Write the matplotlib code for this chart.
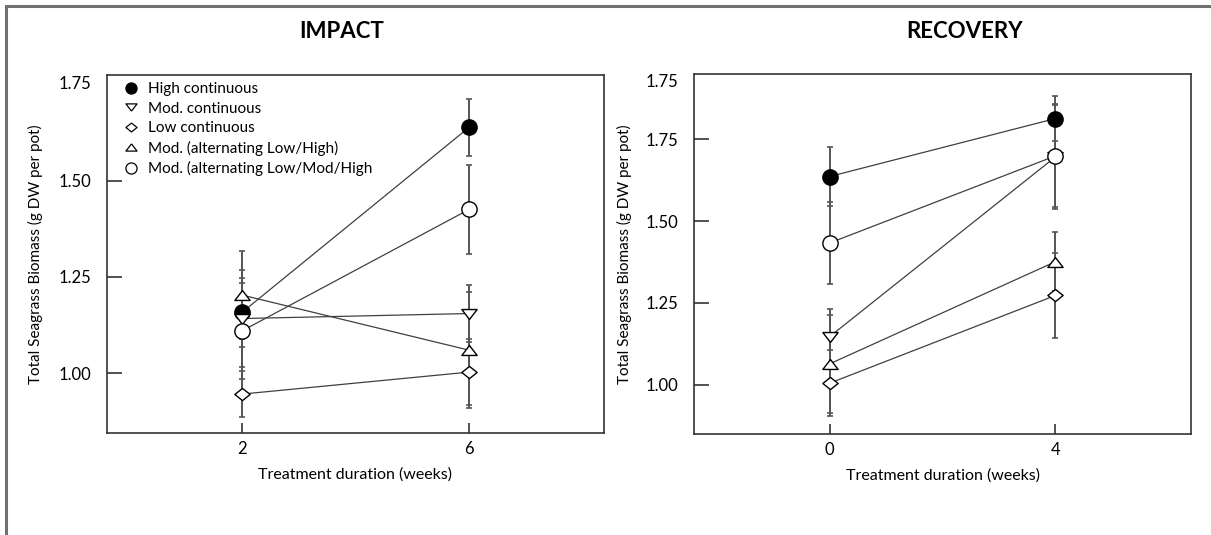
import matplotlib.pyplot as plt
from matplotlib.lines import Line2D

plt.rcParams['font.family'] = ['Lato', 'DejaVu Sans']

# --- data ---
labels = ['High continuous', 'Mod. continuous', 'Low continuous',
          'Mod. (alternating Low/High)', 'Mod. (alternating Low/Mod/High']

impact_weeks = [2, 6]
impact_high = [1.158, 1.638]
impact_high_err = [0.09, 0.075]
impact_modcont = [1.142, 1.155]
impact_modcont_err = [0.125, 0.075]
impact_low = [0.946, 1.003]
impact_low_err = [0.06, 0.085]
impact_alt_lh = [1.203, 1.060]
impact_alt_lh_err = [0.115, 0.15]
impact_alt_lmh = [1.110, 1.425]
impact_alt_lmh_err = [0.125, 0.115]

recovery_weeks = [0, 4]
recovery_high = [1.636, 1.813]
recovery_high_err = [0.09, 0.068]
recovery_modcont = [1.147, 1.696]
recovery_modcont_err = [0.085, 0.16]
recovery_low = [1.005, 1.273]
recovery_low_err = [0.10, 0.13]
recovery_alt_lh = [1.064, 1.376]
recovery_alt_lh_err = [0.15, 0.09]
recovery_alt_lmh = [1.433, 1.699]
recovery_alt_lmh_err = [0.125, 0.155]

# marker shapes (flattened triangles / diamond like the original)
tri_up = [(0, 0.65), (-1, -0.65), (1, -0.65), (0, 0.65)]
tri_down = [(0, -0.65), (-1, 0.65), (1, 0.65), (0, -0.65)]
diamond = [(0, 0.8), (1, 0), (0, -0.8), (-1, 0), (0, 0.8)]
markers = ['o', tri_down, diamond, tri_up, 'o']
faces = ['black', 'white', 'white', 'white', 'white']
msize = [11, 11, 11, 11, 11]

line_col = '#404040'
err_col = '#555555'


def draw_panel(ax, weeks, series, errs):
    for i, (y, e) in enumerate(zip(series, errs)):
        ax.errorbar(weeks, y, yerr=e, fmt='none', ecolor=err_col,
                    elinewidth=1.4, capsize=2.5, capthick=1.2, zorder=2)
    for i, y in enumerate(series):
        ax.plot(weeks, y, color=line_col, lw=0.9, zorder=3)
    for i, y in enumerate(series):
        ax.plot(weeks, y, linestyle='none', marker=markers[i],
                markersize=msize[i], markerfacecolor=faces[i],
                markeredgecolor='black', markeredgewidth=1.0, zorder=4)
    for s in ax.spines.values():
        s.set_color('#333333')
        s.set_linewidth(1.2)
    ax.tick_params(axis='y', direction='in', length=11, width=1.2,
                   color='#333333', pad=11, labelsize=12)
    ax.tick_params(axis='x', direction='in', length=7, width=1.2,
                   color='#333333', pad=6, labelsize=12)
    ax.set_ylabel('Total Seagrass Biomass (g DW per pot)', fontsize=11)
    ax.set_xlabel('Treatment duration (weeks)', fontsize=11.5)


fig = plt.figure(figsize=(12.11, 5.35), dpi=100)

ax1 = fig.add_axes([107 / 1211, 1 - 433 / 535, 497 / 1211, 358 / 535])
draw_panel(ax1, impact_weeks,
           [impact_high, impact_modcont, impact_low, impact_alt_lh, impact_alt_lmh],
           [impact_high_err, impact_modcont_err, impact_low_err,
            impact_alt_lh_err, impact_alt_lmh_err])
ax1.set_xlim(-0.38, 8.38)
ax1.set_ylim(0.845, 1.774)
ax1.set_xticks(impact_weeks)
ax1.set_yticks([1.0, 1.25, 1.5, 1.755])
ax1.set_yticklabels(['1.00', '1.25', '1.50', '1.75'])
ax1.yaxis.get_major_ticks()[-1].tick1line.set_visible(False)
ax1.yaxis.set_label_coords(-0.128, 0.5)
ax1.xaxis.set_label_coords(0.5, -0.095)

handles = [Line2D([], [], linestyle='none', marker=markers[i], markersize=8,
                  markerfacecolor=faces[i], markeredgecolor='black',
                  markeredgewidth=0.9) for i in range(5)]
ax1.legend(handles, labels, loc='upper left', bbox_to_anchor=(0.012, 1.01),
           frameon=False, fontsize=11, handlelength=1.0, handletextpad=0.6,
           labelspacing=0.36, borderaxespad=0.3)

ax2 = fig.add_axes([694 / 1211, 1 - 434 / 535, 497 / 1211, 360 / 535])
draw_panel(ax2, recovery_weeks,
           [recovery_high, recovery_modcont, recovery_low, recovery_alt_lh,
            recovery_alt_lmh],
           [recovery_high_err, recovery_modcont_err, recovery_low_err,
            recovery_alt_lh_err, recovery_alt_lmh_err])
ax2.set_xlim(-2.4, 6.4)
ax2.set_ylim(0.85, 1.949)
ax2.set_xticks(recovery_weeks)
ax2.set_yticks([1.0, 1.25, 1.5, 1.75, 1.929])
ax2.set_yticklabels(['1.00', '1.25', '1.50', '1.75', '1.75'])
ax2.yaxis.get_major_ticks()[-1].tick1line.set_visible(False)
ax2.yaxis.set_label_coords(-0.125, 0.5)
ax2.xaxis.set_label_coords(0.5, -0.095)

fig.text(341.5 / 1211, 1 - 32 / 535, 'IMPACT', ha='center', va='center',
         fontsize=16, fontweight='bold')
fig.text(965 / 1211, 1 - 32 / 535, 'RECOVERY', ha='center', va='center',
         fontsize=16, fontweight='bold')

# gray frame lines (left + top)
fig.add_artist(Line2D([6 / 1211, 6 / 1211], [0, 1 - 6 / 535],
                      transform=fig.transFigure, color='#707070', lw=2.2))
fig.add_artist(Line2D([6 / 1211, 1], [1 - 6 / 535, 1 - 6 / 535],
                      transform=fig.transFigure, color='#707070', lw=2.2))

fig.savefig('out.png', dpi=100)
